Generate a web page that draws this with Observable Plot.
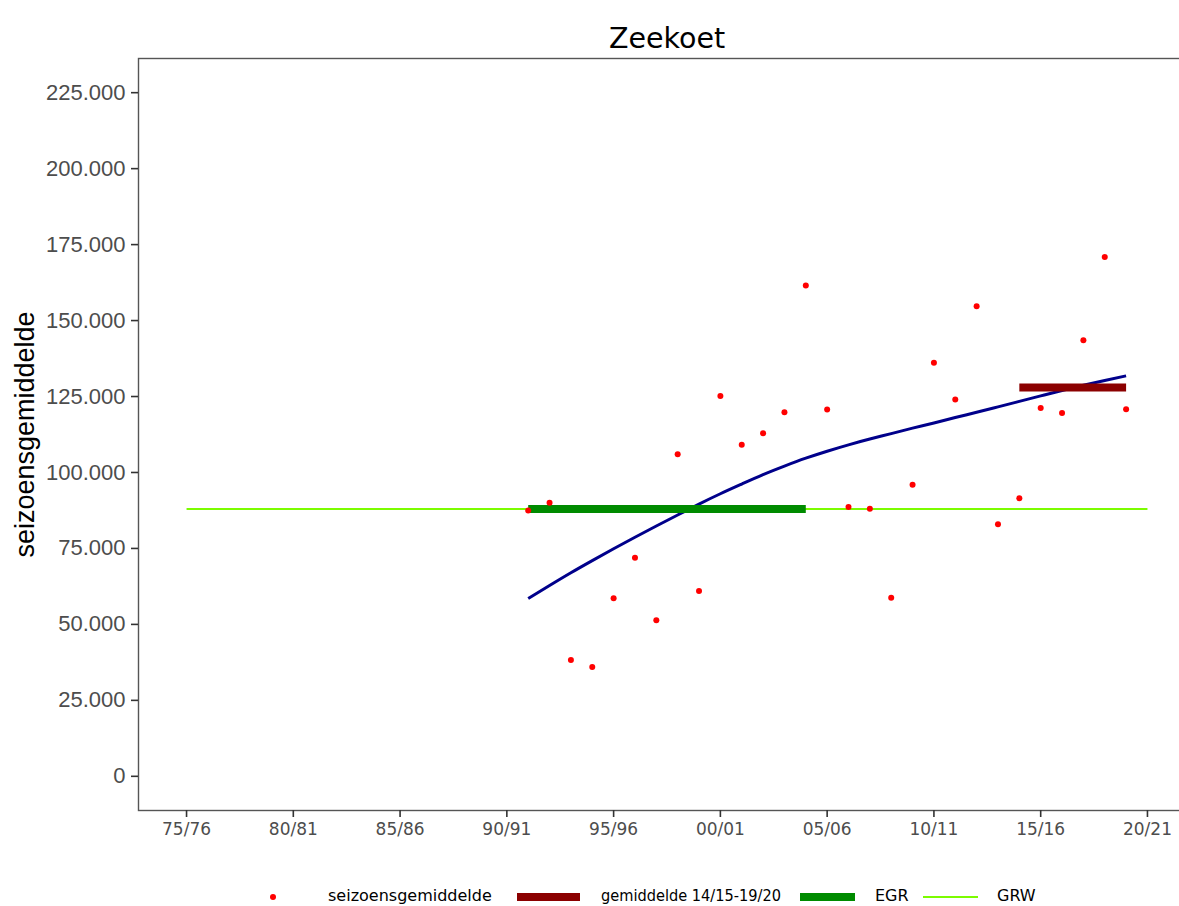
<!DOCTYPE html>
<html>
<head>
<meta charset="utf-8">
<script src="https://cdn.jsdelivr.net/npm/d3@7"></script>
<script src="https://cdn.jsdelivr.net/npm/@observablehq/plot@0.6"></script>
<style>
  html, body { margin: 0; padding: 0; background: #fff; overflow: hidden; }
  #wrap { position: relative; width: 1179px; height: 906px; overflow: hidden; }
  #chart svg { max-width: none !important; display: block; }
  .lg { position: absolute; }
  .lgt { position: absolute; top: 886px; font-family: "DejaVu Sans", sans-serif; font-size: 16px; line-height: 20px; color: #000; white-space: nowrap; transform-origin: left center; }
</style>
</head>
<body>
<div id="wrap">
  <div id="chart"></div>
  <div id="legend"></div>
</div>
<script>
// ---- data ----
const title = "Zeekoet";
const yLabel = "seizoensgemiddelde";
const seasons = ["91/92","92/93","93/94","94/95","95/96","96/97","97/98","98/99","99/00","00/01",
  "01/02","02/03","03/04","04/05","05/06","06/07","07/08","08/09","09/10","10/11",
  "11/12","12/13","13/14","14/15","15/16","16/17","17/18","18/19","19/20"];
const seasonMeans = [87500, 90000, 38300, 36000, 58600, 71900, 51400, 106000, 61000, 125200,
  109100, 112900, 119800, 161500, 120700, 88600, 88100, 58800, 96000, 136100,
  124000, 154700, 83000, 91500, 121200, 119600, 143500, 170900, 120800];
const trendValues = [58500, 62800, 67000, 71000, 74900, 78700, 82400, 86000, 89600, 93000,
  96200, 99300, 102100, 104700, 107000, 109100, 111000, 112800, 114600, 116300,
  118100, 119800, 121600, 123400, 125200, 127000, 128700, 130300, 131800];
const xTickLabels = ["75/76","80/81","85/86","90/91","95/96","00/01","05/06","10/11","15/16","20/21"];
const yTicks = [0, 25000, 50000, 75000, 100000, 125000, 150000, 175000, 200000, 225000];
const recentMeanSeasons = ["14/15", "19/20"];
const recentMean = 128000;
const egrSeasons = ["91/92", "04/05"];
const egrValue = 88000;
const grwSeasons = ["75/76", "20/21"];
const grwValue = 88000;
const legendLabels = ["seizoensgemiddelde", "gemiddelde 14/15-19/20", "EGR", "GRW"];

// ---- helpers ----
const seasonYear = s => { const yy = +s.slice(0, 2); return yy >= 50 ? 1900 + yy : 2000 + yy; };
const pts = seasons.map((s, i) => ({x: seasonYear(s), y: seasonMeans[i]}));
const trend = seasons.map((s, i) => ({x: seasonYear(s), y: trendValues[i]}));
const seg = (ss, v) => ss.map(s => ({x: seasonYear(s), y: v}));
const xTicks = xTickLabels.map(seasonYear);
const loc = d3.formatLocale({decimal: ",", thousands: ".", grouping: [3], currency: ["€", ""]});
const fmtY = loc.format(",d");
const fmtX = y => xTickLabels[xTicks.indexOf(y)];

const chart = Plot.plot({
  width: 1195,
  height: 850,
  marginTop: 58,
  marginLeft: 138,
  marginRight: 0,
  marginBottom: 40,
  style: {background: "#fff", overflow: "visible"},
  x: {domain: [1972.75, 2022.25]},
  y: {domain: [-11250, 236250]},
  marks: [
    Plot.frame({stroke: "#555", strokeWidth: 1.4}),
    Plot.axisX({ticks: xTicks, tickFormat: fmtX, tickSize: 7, tickPadding: 5,
      fontSize: 17, fontFamily: "DejaVu Sans", stroke: "#333", strokeWidth: 1.6, label: null}),
    Plot.axisY({ticks: yTicks, tickFormat: fmtY, tickSize: 7, tickPadding: 6,
      fontSize: 22, fontFamily: "Liberation Sans", stroke: "#333", strokeWidth: 1.6, label: null}),
    Plot.line(trend, {x: "x", y: "y", stroke: "#00008B", strokeWidth: 3, curve: "natural", strokeLinecap: "butt"}),
    Plot.line(seg(grwSeasons, grwValue), {x: "x", y: "y", stroke: "#7CFC00", strokeWidth: 2, strokeLinecap: "butt"}),
    Plot.line(seg(egrSeasons, egrValue), {x: "x", y: "y", stroke: "#008B00", strokeWidth: 8, strokeLinecap: "butt"}),
    Plot.line(seg(recentMeanSeasons, recentMean), {x: "x", y: "y", stroke: "#8B0000", strokeWidth: 8, strokeLinecap: "butt"}),
    Plot.dot(pts, {x: "x", y: "y", r: 3, fill: "#FF0000", stroke: "none"}),
    Plot.text([title], {frameAnchor: "top", dy: -31, fontSize: 28.5, fontFamily: "DejaVu Sans", fill: "#000"}),
    Plot.text([yLabel], {frameAnchor: "left", textAnchor: "middle", dx: -113, rotate: -90, fontSize: 27, fontFamily: "Liberation Sans", fill: "#000"})
  ]
});
chart.style.maxWidth = "none";
document.getElementById("chart").appendChild(chart);

// tick label colors
d3.select(chart).selectAll('[aria-label="x-axis tick label"], [aria-label="y-axis tick label"]')
  .attr("fill", "#4d4d4d");
d3.select(chart).selectAll('[aria-label="x-axis tick label"] text, [aria-label="y-axis tick label"] text')
  .attr("fill", "#4d4d4d");

// ---- legend ----
const lg = document.getElementById("legend");
function box(left, top, w, h, color, radius) {
  const d = document.createElement("div");
  d.className = "lg";
  Object.assign(d.style, {left: left + "px", top: top + "px", width: w + "px", height: h + "px", background: color, borderRadius: radius || "0"});
  lg.appendChild(d);
}
function label(left, text, targetWidth) {
  const d = document.createElement("div");
  d.className = "lgt";
  d.style.left = left + "px";
  d.textContent = text;
  lg.appendChild(d);
  if (targetWidth) {
    const w = d.getBoundingClientRect().width;
    if (w > targetWidth) d.style.transform = `scaleX(${targetWidth / w})`;
  }
}
box(270, 894, 6, 6, "#FF0000", "50%");
label(328, legendLabels[0]);
box(517, 893, 63, 8, "#8B0000");
label(601, legendLabels[1], 180);
box(800, 893, 55, 8, "#008B00");
label(875, legendLabels[2]);
box(923, 896, 55, 2, "#7CFC00");
label(997, legendLabels[3]);
</script>
</body>
</html>
